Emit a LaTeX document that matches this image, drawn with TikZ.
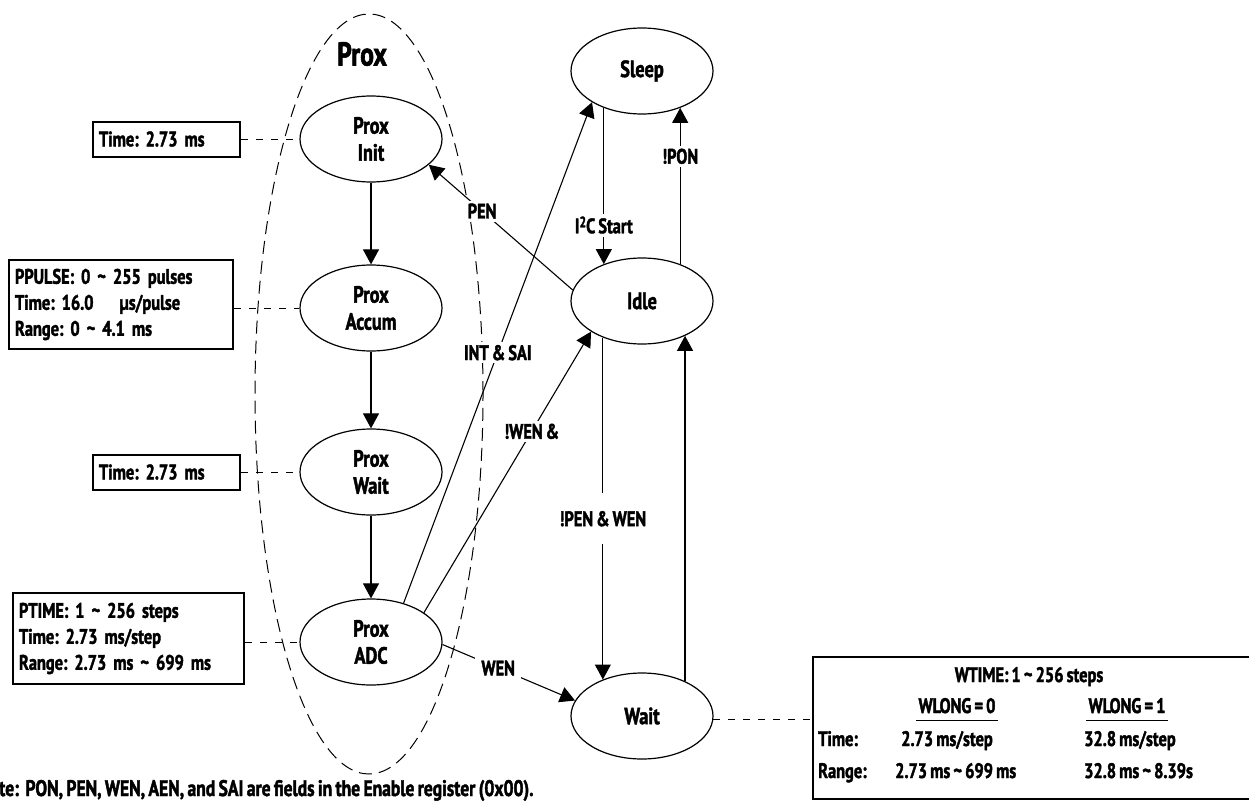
\documentclass[tikz,border=0pt]{standalone}
\usepackage{fontspec}
\setmainfont{PT Sans}[FakeStretch=0.78, FakeBold=1.8, WordSpace=0.75]
\usetikzlibrary{shapes.geometric,arrows.meta}
\frenchspacing
\newcommand\stfont{\fontsize{23.5}{27}\selectfont\bfseries\frenchspacing}
\newcommand\bxfont{\fontsize{21}{26}\selectfont\bfseries\frenchspacing}
\newcommand\notefont{\fontsize{22.5}{26}\selectfont\bfseries\frenchspacing}
\newcommand\bigproxfont{\fontsize{33}{36}\selectfont\bfseries}
\newcommand\suptwo{{\fontsize{15}{15}\selectfont\raisebox{6pt}{2}}}
\begin{document}
\begin{tikzpicture}[x=1pt,y=-1pt,
  state/.style={ellipse, draw, line width=1.2pt, minimum width=142pt, minimum height=86pt, inner sep=0pt, font=\stfont, align=center},
  arr/.style={line width=1.1pt, -{Triangle[width=16pt,length=15pt]}},
  lbl/.style={font=\bxfont, fill=white, inner sep=3pt},
  infobox/.style={draw, line width=2pt, font=\bxfont, align=left, inner xsep=6pt, inner ysep=0pt},
  link/.style={line width=1pt, dash pattern=on 7pt off 8pt},
  txt/.style={font=\bxfont, inner sep=0pt, anchor=base},
]
\useasboundingbox (0,0) rectangle (1249,800);

% Prox group
\node (proxgroup) [ellipse, draw, line width=1pt, dash pattern=on 13pt off 7pt, minimum width=228pt, minimum height=760pt, inner sep=0pt] at (369,394) {};
\node (proxtitle) [font=\bigproxfont, inner sep=0pt] at (362,54) {Prox};

% states
\node (Init)  [state] at (371,139) {Prox\\Init};
\node (Accum) [state] at (371,308) {Prox\\Accum};
\node (PWait) [state] at (371,472) {Prox\\Wait};
\node (ADC)   [state] at (371,642) {Prox\\ADC};
\node (Sleep) [state] at (642,71)  {Sleep};
\node (Idle)  [state] at (642,301) {Idle};
\node (Wait)  [state] at (642,716) {Wait};

% info boxes
\node (b1) [infobox, text width=135pt, minimum height=35pt] at (166.5,139) {Time: 2.73 ms};
\node (b2) [infobox, text width=212pt, minimum height=89pt] at (121,304.5) {PPULSE: 0 \textasciitilde\ 255 pulses\\Time: 16.0\hspace{26pt}µs/pulse\\Range: 0 \textasciitilde\ 4.1 ms};
\node (b3) [infobox, text width=135pt, minimum height=35pt] at (166.5,472) {Time: 2.73 ms};
\node (b4) [infobox, text width=219pt, minimum height=91pt] at (128.5,638.5) {PTIME: 1 \textasciitilde\ 256 steps\\Time: 2.73 ms/step\\Range: 2.73 ms \textasciitilde\ 699 ms};
\node (b5) [draw, line width=2pt, minimum width=460pt, minimum height=142pt, anchor=north west, inner sep=0pt] at (812,656) {};

\draw[link] (b1.east |- Init.west) -- (Init.west);
\draw[link] (b2.east |- Accum.west) -- (Accum.west);
\draw[link] (b3.east |- PWait.west) -- (PWait.west);
\draw[link] (b4.east |- ADC.west) -- (ADC.west);
\draw[link] (Wait.-3) -- (Wait.-3 -| b5.west);

% wait table
\node (wt)   [txt] at (1029,682) {WTIME: 1 \textasciitilde\ 256 steps};
\node (wl0)  [txt, inner xsep=2pt, inner ysep=7pt] at (957,713) {WLONG = 0};
\node (wl1)  [txt, inner xsep=2pt, inner ysep=7pt] at (1127,713) {WLONG = 1};
\draw[line width=1.1pt] (wl0.south west) -- (wl0.south east);
\draw[line width=1.1pt] (wl1.south west) -- (wl1.south east);
\node (tlab) [txt, anchor=base west] at (818,746) {Time:};
\node (t0)   [txt] at (947,746) {2.73 ms/step};
\node (t1)   [txt, anchor=base west] at (1084,746) {32.8 ms/step};
\node (rlab) [txt, anchor=base west] at (818,778) {Range:};
\node (r0)   [txt, anchor=base west] at (895,778) {2.73 ms \textasciitilde\ 699 ms};
\node (r1)   [txt, anchor=base west] at (1084,778) {32.8 ms \textasciitilde\ 8.39s};

% transitions in Prox
\draw[arr] (Init) -- (Accum);
\draw[arr] (Accum) -- (PWait);
\draw[arr] (PWait) -- (ADC);

% transitions right
\draw[arr] (Sleep.-136.3) -- node[lbl, pos=0.75] {I\suptwo C Start} (Idle.136.3);
\draw[arr] (Idle.44.8) -- node[lbl, pos=0.69] {!PON} (Sleep.-44.8);
\draw[arr] (Idle.-137.4) -- node[lbl, pos=0.53, inner ysep=18pt] {!PEN \& WEN} (Wait.137.4);
\draw[arr] (Wait.39.6) -- (Idle.-39.6);
\draw[arr] (Idle.171) -- node[lbl, pos=0.63] {PEN} (Init.-24);
\draw[arr] (ADC.50) -- node[lbl, pos=0.5] {INT \& SAI} (Sleep.-148);
\draw[arr] (ADC.29) -- node[lbl, pos=0.645] {!WEN \&} (Idle.-149.4);
\draw[arr] (ADC.-2) -- node[lbl, pos=0.42, inner sep=6pt] {WEN} (Wait.167.8);

% note
\node (note) [font=\notefont, inner sep=0pt, anchor=base west] at (-1,796) {te:\ \ PON, PEN, WEN, AEN, and SAI are fields in the Enable register (0x00).};
\end{tikzpicture}
\end{document}
